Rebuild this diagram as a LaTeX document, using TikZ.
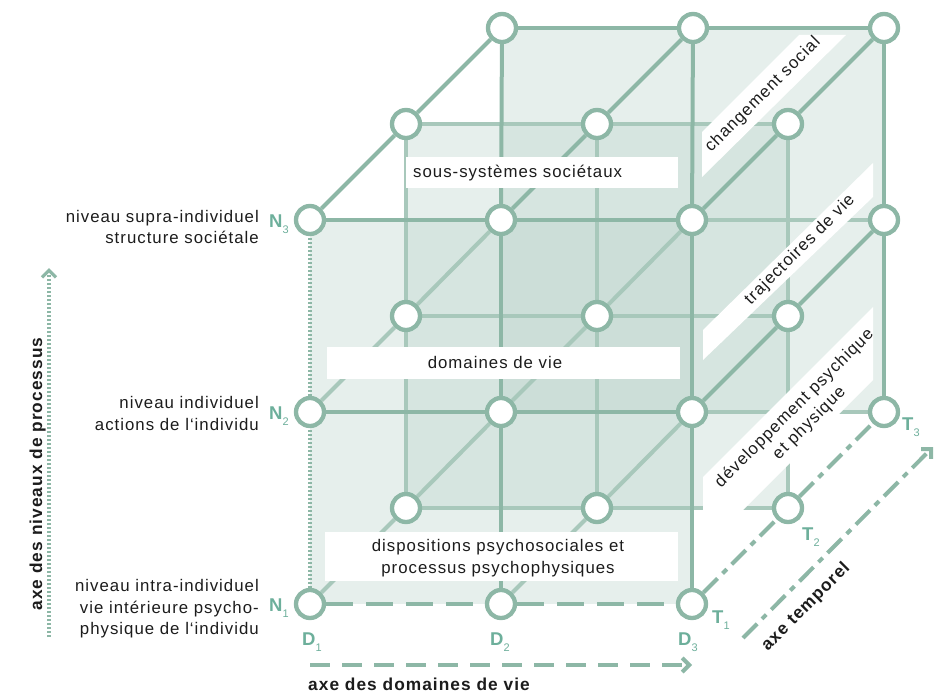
\documentclass[tikz,border=0pt]{standalone}
\usepackage{fontspec}
\setmainfont{Liberation Sans}[LetterSpace=6]
\usetikzlibrary{arrows.meta}
\definecolor{lnd}{RGB}{141,183,166}
\definecolor{lnl}{RGB}{168,200,187}
\definecolor{tealc}{RGB}{109,175,155}
\definecolor{planec}{RGB}{186,211,202}
\definecolor{txt}{RGB}{28,28,28}
\pgfdeclarelayer{planes}
\pgfdeclarelayer{edges}
\pgfdeclarelayer{boxes}
\pgfsetlayers{planes,edges,boxes,main}
\newcommand\axlbl[2]{{\fontsize{18.5}{18}\selectfont\bfseries #1}\raisebox{-6.5pt}{\fontsize{11}{11}\selectfont #2}}
\begin{document}
\begin{tikzpicture}[x=1pt,y=-1pt,
  gridpt/.style={circle,draw=lnd,line width=4.3pt,fill=white,minimum size=28pt,inner sep=0pt},
  planefill/.style={fill=planec,fill opacity=0.36},
  edgedark/.style={draw=lnd,line width=4pt},
  edgelight/.style={draw=lnl,line width=4pt},
  edgedash/.style={draw=lnd,line width=4pt,dash pattern=on 27pt off 13pt},
  edgedot/.style={draw=lnd,line width=3.3pt,dash pattern=on 2.2pt off 1.8pt},
  edgedashdot/.style={draw=lnd,line width=4pt,dash pattern=on 20pt off 7pt on 6pt off 7pt},
  wbox/.style={rectangle,fill=white,draw=none,inner sep=0pt},
  bandfill/.style={fill=white},
  bodytxt/.style={inner sep=0pt,text=txt,font=\fontsize{16.8}{21}\selectfont},
  boldtxt/.style={inner sep=0pt,text=txt,font=\fontsize{17.3}{21}\selectfont\bfseries},
  tlbl/.style={inner sep=0pt,text=tealc,anchor=base west},
  chev/.style={-{Straight Barb[length=7pt,width=14pt]}}
]
\useasboundingbox (0,0) rectangle (943,693);

% ---------- lattice nodes ----------
\foreach \k in {0,1}{\foreach \j in {0,1,2}{\foreach \i in {0,1,2}{
  \node[gridpt] (n\i\j\k) at ({310+191*\i+96*\k},{604-192*\j-96*\k}) {};
}}}
\node[gridpt] (n022) at (502,28) {};
\node[gridpt] (n122) at (693,28) {};
\node[gridpt] (n222) at (884,28) {};
\node[gridpt] (n212) at (884,220) {};
\node[gridpt] (n202) at (884,412) {};
\pgfnodealias{n002}{n110}
\pgfnodealias{n102}{n210}
\pgfnodealias{n012}{n120}
\pgfnodealias{n112}{n220}

% ---------- translucent planes ----------
\begin{pgfonlayer}{planes}
  \path[planefill] (n002.center) -- (n202.center) -- (n222.center) -- (n022.center) -- cycle;
  \path[planefill] (n001.center) -- (n201.center) -- (n221.center) -- (n021.center) -- cycle;
  \path[planefill] (n000.center) -- (n200.center) -- (n220.center) -- (n020.center) -- cycle;
\end{pgfonlayer}

% ---------- edges ----------
\begin{pgfonlayer}{edges}
  % light: middle layer
  \draw[edgelight] (n001) -- (n101) -- (n201);
  \draw[edgelight] (n011) -- (n111) -- (n211);
  \draw[edgelight] (n021) -- (n121) -- (n221);
  \draw[edgelight] (n001) -- (n011) -- (n021);
  \draw[edgelight] (n101) -- (n111) -- (n121);
  \draw[edgelight] (n201) -- (n211) -- (n221);
  % light: back inner rows
  \draw[edgelight] (n102) -- (n202);
  \draw[edgelight] (n112) -- (n212);
  % light: inner depth lines
  \draw[edgelight] (n000) -- (n001) -- (n002);
  \draw[edgelight] (n100) -- (n101) -- (n102);
  \draw[edgelight] (n010) -- (n011) -- (n012);
  \draw[edgelight] (n110) -- (n111) -- (n112);
  % dark: back layer
  \draw[edgedark] (n022) -- (n122) -- (n222);
  \draw[edgedark] (n012) -- (n022);
  \draw[edgedark] (n112) -- (n122);
  \draw[edgedark] (n202) -- (n212) -- (n222);
  % dark: outer depth lines
  \draw[edgedark] (n020) -- (n021) -- (n022);
  \draw[edgedark] (n120) -- (n121) -- (n122);
  \draw[edgedark] (n210) -- (n211) -- (n212);
  \draw[edgedark] (n220) -- (n221) -- (n222);
  \draw[edgedashdot] (n200) -- (n201) -- (n202);
  % dark: front layer
  \draw[edgedash] (n000) -- (n100) -- (n200);
  \draw[edgedark] (n010) -- (n110) -- (n210);
  \draw[edgedark] (n020) -- (n120) -- (n220);
  \draw[edgedot] (n000) -- (n010) -- (n020);
  \draw[edgedark] (n100) -- (n110) -- (n120);
  \draw[edgedark] (n200) -- (n210) -- (n220);
\end{pgfonlayer}

% ---------- white label boxes and bands ----------
\begin{pgfonlayer}{boxes}
  \node[wbox,minimum width=272pt,minimum height=31pt] (box1) at (542,172.5) {};
  \node[wbox,minimum width=353pt,minimum height=32pt] (box2) at (503.5,363) {};
  \node[wbox,minimum width=353pt,minimum height=49pt] (box3) at (501.5,556.5) {};
  \fill[bandfill] (702,177) -- (846,35) -- (799,35) -- (702,132) -- cycle;
  \fill[bandfill] (703,360) -- (873,197) -- (873,163) -- (703,330) -- cycle;
  \fill[bandfill] (703,550) -- (873,380) -- (873,307) -- (703,477) -- cycle;
\end{pgfonlayer}

% ---------- texts in boxes and bands ----------
\node[bodytxt,anchor=base west] (tsous) at (413,177) {sous-systèmes sociétaux};
\node[bodytxt,anchor=base] (tdom) at (495,368) {domaines de vie};
\node[bodytxt,anchor=base] (tdisp1) at (498,551.5) {dispositions psychosociales et};
\node[bodytxt,anchor=base] (tdisp2) at (498,573) {processus psychophysiques};
\node[bodytxt,rotate=45] (tchg) at (763,95) {changement social};
\node[bodytxt,rotate=45] (ttraj) at (800,250) {trajectoires de vie};
\node[bodytxt,rotate=45,align=center] (tdev) at (802,416) {développement psychique\\et physique};

% ---------- left level labels ----------
\node[bodytxt,anchor=base east] (ls1) at (259,222) {niveau supra-individuel};
\node[bodytxt,anchor=base east] (ls2) at (259,243) {structure sociétale};
\node[bodytxt,anchor=base east] (li1) at (259,408) {niveau individuel};
\node[bodytxt,anchor=base east] (li2) at (259,430) {actions de l‘individu};
\node[bodytxt,anchor=base east] (lr1) at (259,591.5) {niveau intra-individuel};
\node[bodytxt,anchor=base east] (lr2) at (259,613) {vie intérieure psycho-};
\node[bodytxt,anchor=base east] (lr3) at (259,634) {physique de l‘individu};

% ---------- N / D / T labels ----------
\node[tlbl] (N3) at (269,227) {\axlbl{N}{3}};
\node[tlbl] (N2) at (269,419) {\axlbl{N}{2}};
\node[tlbl] (N1) at (269,611) {\axlbl{N}{1}};
\node[tlbl] (D1) at (302,645) {\axlbl{D}{1}};
\node[tlbl] (D2) at (490,645) {\axlbl{D}{2}};
\node[tlbl] (D3) at (678,645) {\axlbl{D}{3}};
\node[tlbl] (T1) at (712,623) {\axlbl{T}{1}};
\node[tlbl] (T2) at (802,540) {\axlbl{T}{2}};
\node[tlbl] (T3) at (902,430) {\axlbl{T}{3}};

% ---------- axes ----------
\coordinate (va0) at (49,637);
\coordinate (va1) at (49,268);
\coordinate (ha0) at (310,665);
\coordinate (ha1) at (692,665);
\coordinate (ta0) at (743,638);
\coordinate (ta1) at (933,447);
\draw[chev,draw=lnd,line width=3.3pt,dash pattern=on 2.2pt off 1.8pt] (va0) -- (va1);
\draw[chev,draw=lnd,line width=4pt,dash pattern=on 20pt off 12pt] (ha0) -- (ha1);
\draw[chev,draw=lnd,line width=4pt,dash pattern=on 20pt off 7pt on 6pt off 7pt] (ta0) -- (ta1);

\node[boldtxt,anchor=base,rotate=90] (axN) at (42,474) {axe des niveaux de processus};
\node[boldtxt,anchor=base west] (axD) at (308,690) {axe des domaines de vie};
\node[boldtxt,rotate=45] (axT) at (806,607) {axe temporel};
\end{tikzpicture}
\end{document}
